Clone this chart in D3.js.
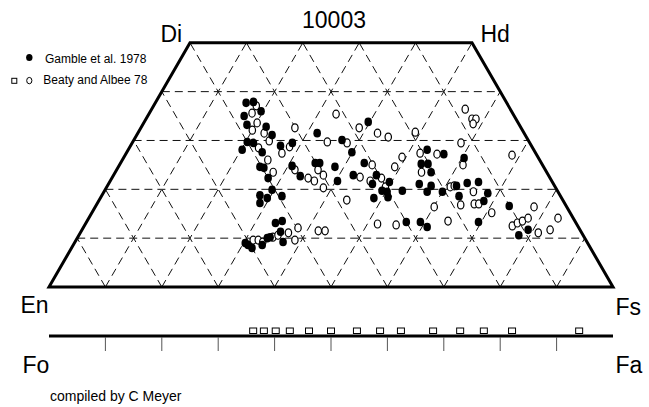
<!DOCTYPE html>
<html><head><meta charset="utf-8">
<script src="https://cdn.jsdelivr.net/npm/d3@7"></script>
<style>body{margin:0;background:#fff}svg{display:block}text{font-family:"Liberation Sans",Arial,sans-serif;fill:#000}</style>
</head><body>
<svg id="c" width="649" height="407"></svg>
<script>
const title = "10003";
const cornerLabels = ["Di", "Hd", "En", "Fs"];
const lineLabels = ["Fo", "Fa"];
const legendLabels = ["Gamble et al. 1978", "Beaty and Albee 78"];
const credit = "compiled by C Meyer";
const gridSteps = [10, 20, 30, 40, 50, 60, 70, 80, 90];
const woLevels = [10, 20, 30, 40];

// pyroxene compositions as [Wo %, Fs %]  (En = 100 - Wo - Fs)
const gamble = [
 [37.7,16.1],[37.9,17.3],[36.0,19.6],[35.0,17.1],[33.2,18.5],[32.8,22.1],[31.1,24.0],
 [29.7,20.3],[29.5,21.5],[28.1,20.2],[27.6,24.0],[28.9,26.6],[29.5,28.4],[31.5,31.8],
 [30.1,36.9],[24.6,25.1],[24.4,25.9],[24.8,30.7],[22.7,33.2],[25.4,34.5],[25.4,35.3],
 [24.6,38.4],[21.7,40.3],[22.3,27.7],[19.9,29.6],[18.8,28.0],[18.2,29.6],[18.6,32.0],
 [17.2,28.8],[13.5,34.6],[13.1,33.6],[11.3,35.4],[10.0,33.7],[10.2,34.1],[8.6,31.0],
 [8.0,32.0],[8.6,33.5],[9.0,30.3],[9.2,36.9],[33.8,39.7],[27.6,39.9],[25.4,43.2],
 [22.9,42.5],[22.9,46.6],[21.1,46.8],[21.5,49.6],[19.7,49.2],[19.5,50.2],[19.7,52.8],
 [18.4,50.9],[18.2,48.5],[28.1,53.0],[27.2,56.4],[25.2,53.4],[25.2,54.6],[23.5,56.0],
 [21.1,55.1],[20.7,57.4],[19.5,57.3],[19.5,60.0],[13.3,56.7],[13.3,59.2],[12.3,60.9],
 [20.7,61.9],[18.6,63.4],[26.4,60.4],[21.3,63.5],[21.5,65.4],[19.2,68.2],[17.6,68.3],
 [16.6,73.3],[13.3,69.5],[11.7,79.1],[10.6,78.0]
];
const beaty = [
 [37.1,18.2],[35.6,18.2],[33.6,20.1],[32.1,20.0],[31.5,22.4],[29.9,24.1],[32.6,27.3],
 [35.4,33.2],[28.5,22.9],[27.4,27.6],[28.7,28.3],[29.7,34.5],[26.0,25.8],[23.5,28.0],
 [24.0,31.6],[22.3,34.8],[21.7,36.2],[24.0,35.7],[22.9,37.2],[20.3,38.5],[11.1,36.9],
 [12.1,38.1],[9.6,38.8],[11.5,42.0],[11.5,43.2],[9.6,31.4],[9.6,32.3],[9.2,33.3],
 [10.2,34.6],[10.6,35.3],[17.8,43.9],[32.6,38.7],[31.5,42.5],[30.7,44.8],[31.7,49.1],
 [29.5,38.1],[25.0,44.8],[26.6,49.3],[24.6,49.0],[22.5,43.9],[22.3,47.8],[21.7,46.1],
 [20.5,49.4],[27.4,52.1],[27.2,55.2],[23.5,54.3],[20.5,60.9],[20.7,61.5],[16.4,60.1],
 [12.9,51.8],[12.7,55.2],[13.5,64.0],[36.4,55.6],[34.4,57.8],[34.4,58.5],[33.4,58.5],
 [29.5,58.3],[27.0,68.6],[25.0,60.9],[19.5,65.5],[16.8,64.6],[17.0,66.9],[17.0,67.7],
 [15.2,70.9],[16.4,77.8],[12.5,75.9],[13.1,76.5],[13.5,77.2],[14.1,77.9],[11.1,81.2],
 [11.7,83.0],[14.1,83.2]
];
// olivine compositions, Fa %
const olivineFa = [36.2, 38.1, 40.2, 42.7, 46.1, 50.0, 54.6, 58.7, 62.4, 68.1, 72.9, 77.1, 82.1, 94.0];

const svg = d3.select("#c");
const x = d3.scaleLinear().domain([0, 100]).range([49, 613]);
const y = d3.scaleLinear().domain([0, 50]).range([287, 42.8]);
const pt = (wo, fs) => [x(fs + wo / 2), y(wo)];
const line = d3.line();

// grid
const grid = svg.append("g").attr("stroke", "#111").attr("stroke-width", 1)
  .attr("stroke-dasharray", "8,5").attr("fill", "none");
const segs = [];
woLevels.forEach(w => segs.push([pt(w, 0), pt(w, 100 - w)]));
gridSteps.forEach(f => {
  const we = Math.min(50, 100 - f);
  segs.push([pt(0, f), pt(we, f)]);                  // constant Fs
  segs.push([pt(0, 100 - f), pt(we, 100 - f - we)]); // constant En = f
});
grid.selectAll("path").data(segs).join("path").attr("d", d => line(d));

// outline
svg.append("path")
  .attr("d", line([pt(0, 0), pt(50, 0), pt(50, 50), pt(0, 100)]) + "Z")
  .attr("fill", "none").attr("stroke", "#000").attr("stroke-width", 3)
  .attr("stroke-linejoin", "miter");

// olivine line
const yOl = 336;
svg.append("line").attr("x1", x(0)).attr("x2", x(100)).attr("y1", yOl).attr("y2", yOl)
  .attr("stroke", "#000").attr("stroke-width", 3);
svg.append("g").selectAll("line").data(gridSteps).join("line")
  .attr("x1", d => x(d)).attr("x2", d => x(d)).attr("y1", yOl + 1).attr("y2", yOl + 15)
  .attr("stroke", "#555").attr("stroke-width", 1);
svg.append("g").selectAll("rect").data(olivineFa).join("rect")
  .attr("x", d => x(d) - 3.5).attr("y", yOl - 8).attr("width", 7).attr("height", 5.5)
  .attr("fill", "#fff").attr("stroke", "#000").attr("stroke-width", 1);

// points
svg.append("g").selectAll("ellipse").data(beaty).join("ellipse")
  .attr("cx", d => pt(d[0], d[1])[0]).attr("cy", d => pt(d[0], d[1])[1])
  .attr("rx", 3.2).attr("ry", 4).attr("fill", "#fff").attr("stroke", "#000").attr("stroke-width", 1.2);
svg.append("g").selectAll("ellipse").data(gamble).join("ellipse")
  .attr("cx", d => pt(d[0], d[1])[0]).attr("cy", d => pt(d[0], d[1])[1])
  .attr("rx", 3.8).attr("ry", 4.3).attr("fill", "#000");

// labels
const big = 23;
svg.append("text").attr("x", 334).attr("y", 28).attr("text-anchor", "middle").attr("font-size", big).text(title);
svg.append("text").attr("x", 160.5).attr("y", 41.7).attr("font-size", big).text(cornerLabels[0]);
svg.append("text").attr("x", 480.5).attr("y", 41.7).attr("font-size", big).text(cornerLabels[1]);
svg.append("text").attr("x", 20.5).attr("y", 313).attr("font-size", big).text(cornerLabels[2]);
svg.append("text").attr("x", 615.5).attr("y", 315).attr("font-size", big).text(cornerLabels[3]);
svg.append("text").attr("x", 22.5).attr("y", 373).attr("font-size", big).text(lineLabels[0]);
svg.append("text").attr("x", 615.5).attr("y", 373).attr("font-size", big).text(lineLabels[1]);
svg.append("text").attr("x", 50).attr("y", 400.5).attr("font-size", 14).text(credit);

// legend
svg.append("ellipse").attr("cx", 29.3).attr("cy", 57.5).attr("rx", 3.2).attr("ry", 3.6).attr("fill", "#000");
svg.append("text").attr("x", 45).attr("y", 62.5).attr("font-size", 12).text(legendLabels[0]);
svg.append("rect").attr("x", 11.8).attr("y", 78.3).attr("width", 5).attr("height", 5)
  .attr("fill", "#fff").attr("stroke", "#000").attr("stroke-width", 1);
svg.append("ellipse").attr("cx", 29.3).attr("cy", 80.6).attr("rx", 2.6).attr("ry", 3.2)
  .attr("fill", "#fff").attr("stroke", "#000").attr("stroke-width", 1);
svg.append("text").attr("x", 43.3).attr("y", 83.5).attr("font-size", 12).text(legendLabels[1]);
</script>
</body></html>
